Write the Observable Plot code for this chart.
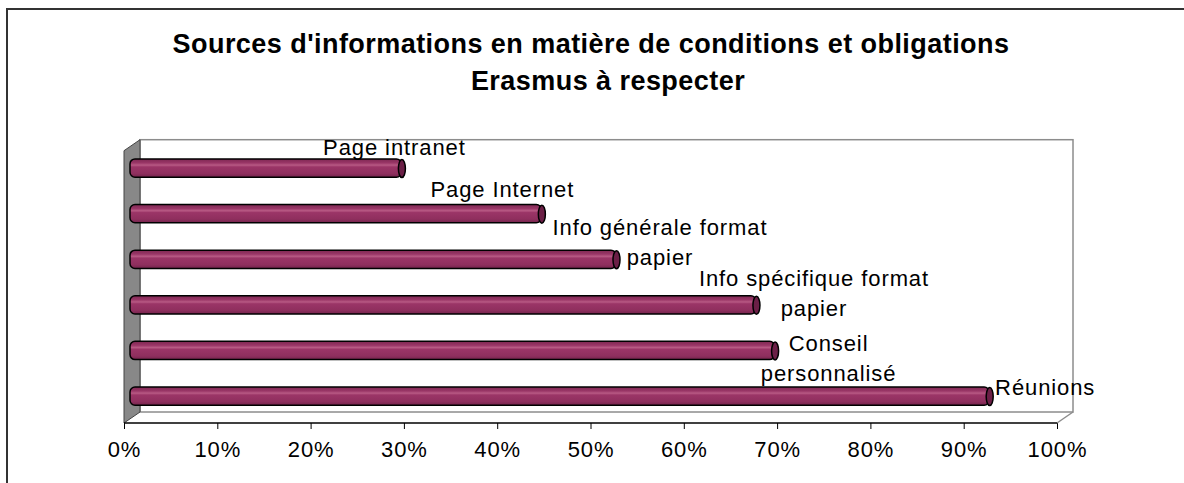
<!DOCTYPE html>
<html><head><meta charset="utf-8">
<script src="https://cdn.jsdelivr.net/npm/d3@7"></script>
<script src="https://cdn.jsdelivr.net/npm/@observablehq/plot@0.6"></script>
<style>
html,body{margin:0;padding:0;background:#fff;overflow:hidden;width:1184px;height:483px;}
#frame{position:absolute;left:6px;top:8px;width:1300px;height:600px;border:2px solid #333;box-sizing:border-box;}
.t{position:absolute;font-family:"Liberation Sans",Arial,sans-serif;font-weight:bold;font-size:27px;letter-spacing:0.45px;white-space:nowrap;transform:translateX(-50%);line-height:27px;color:#000;}
#chart{position:absolute;left:0;top:120px;}
</style></head><body>
<div id="frame"></div>
<div class="t" style="left:591px;top:31px">Sources d'informations en matière de conditions et obligations</div>
<div class="t" style="left:608px;top:68px">Erasmus à respecter</div>
<div id="chart"></div>
<script>
// ---- data ----
const categories = ["Page intranet", "Page Internet", "Info générale format papier", "Info spécifique format papier", "Conseil personnalisé", "Réunions"];
const values = [30, 45, 53, 68, 70, 93];
const barLabels = ["Page intranet", "Page Internet", "Info générale format\npapier", "Info spécifique format\npapier", "Conseil\npersonnalisé", "Réunions"];
const xTicks = [0, 10, 20, 30, 40, 50, 60, 70, 80, 90, 100];

// ---- layout (not data) ----
const labelNudge = [[-10, -23], [-42, -27], [41, -19], [55, -14], [51, 5], [53, -11]];
const depth = {dx: 16, dy: -11};

const rows = categories.map((c, i) => ({category: c, value: values[i], index: i, label: barLabels[i]}));

const defs = () => {
  const g = d3.create("svg:g");
  const lg = g.append("defs").append("linearGradient").attr("id", "cyl").attr("x1", 0).attr("y1", 0).attr("x2", 0).attr("y2", 1);
  [["0%", "#7e2852"], ["22%", "#9a3667"], ["34%", "#b85a84"], ["44%", "#9b3567"], ["80%", "#8f2f5e"], ["100%", "#74244c"]]
    .forEach(([o, c]) => lg.append("stop").attr("offset", o).attr("stop-color", c));
  return g.node();
};

const walls = (index, scales, values, dims) => {
  const x0 = dims.marginLeft, x1 = dims.width - dims.marginRight;
  const yt = dims.marginTop, yb = dims.height - dims.marginBottom;
  const {dx, dy} = depth;
  const g = d3.create("svg:g");
  g.append("rect").attr("x", x0 + dx).attr("y", yt + dy).attr("width", x1 - x0).attr("height", yb - yt)
    .attr("fill", "none").attr("stroke", "#8c8c8c").attr("stroke-width", 1.5);
  g.append("path").attr("d", `M${x1},${yb}L${x1 + dx},${yb + dy}`).attr("stroke", "#8c8c8c").attr("stroke-width", 1.5);
  g.append("path").attr("d", `M${x0},${yt}L${x0 + dx},${yt + dy}L${x0 + dx},${yb + dy}L${x0},${yb}Z`)
    .attr("fill", "#888").attr("stroke", "#444").attr("stroke-width", 1);
  g.append("path").attr("d", `M${x0},${yb}L${x1},${yb}`).attr("stroke", "#000").attr("stroke-width", 1.5);
  return g.node();
};

const ellipse = {
  draw(ctx) {
    const rx = 3.5, ry = 9, k = 0.5523;
    ctx.moveTo(rx, 0);
    ctx.bezierCurveTo(rx, ry * k, rx * k, ry, 0, ry);
    ctx.bezierCurveTo(-rx * k, ry, -rx, ry * k, -rx, 0);
    ctx.bezierCurveTo(-rx, -ry * k, -rx * k, -ry, 0, -ry);
    ctx.bezierCurveTo(rx * k, -ry, rx, -ry * k, rx, 0);
    ctx.closePath();
  }
};

const plot = Plot.plot({
  width: 1184, height: 363,
  marginLeft: 124, marginRight: 127, marginTop: 30.7, marginBottom: 60,
  style: {background: "transparent", fontFamily: "Liberation Sans, Arial, sans-serif", fontSize: "22px", color: "#000", overflow: "visible", letterSpacing: "0.9px"},
  x: {domain: [0, 100], ticks: xTicks, tickFormat: d => d + "%", tickSize: 6, tickPadding: 12, label: null},
  y: {domain: [-0.38, 5.59], reverse: true, axis: null},
  marks: [
    defs,
    walls,
    Plot.rect(rows, {x1: 0, x2: "value", y1: d => d.index - 0.2, y2: d => d.index + 0.2, insetLeft: 6, insetRight: 2.5, rx: 5,
      fill: "url(#cyl)", stroke: "#000", strokeWidth: 1.5}),
    Plot.dot(rows, {x: "value", y: "index", symbol: ellipse, r: 5, dx: -2.5, fill: "#6b1f46", stroke: "#000", strokeWidth: 1.5}),
    ...rows.map((d, i) => Plot.text([d], {x: "value", y: "index", text: "label", dx: labelNudge[i][0], dy: labelNudge[i][1],
      fontSize: 22, lineHeight: 1.364, fill: "#000", textAnchor: "middle"}))
  ]
});
document.getElementById("chart").appendChild(plot);
</script>
</body></html>
